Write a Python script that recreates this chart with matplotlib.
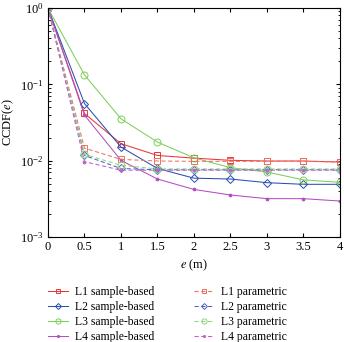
import matplotlib
matplotlib.use("Agg")
import matplotlib.pyplot as plt
import numpy as np

plt.rcParams['font.family'] = ['Liberation Serif', 'DejaVu Serif']
plt.rcParams['mathtext.fontset'] = 'stix'

e = [0, 0.5, 1, 1.5, 2, 2.5, 3, 3.5, 4]

L1_sample = [1, 0.0415, 0.0167, 0.0117, 0.0108, 0.0101, 0.0099, 0.0099, 0.0096]
L2_sample = [1, 0.056, 0.0151, 0.0079, 0.0059, 0.00575, 0.00515, 0.0049, 0.0049]
L3_sample = [1, 0.133, 0.0354, 0.0175, 0.0109, 0.0081, 0.0071, 0.0056, 0.0052]
L4_sample = [1, 0.0395, 0.0101, 0.00575, 0.0042, 0.00355, 0.00318, 0.00318, 0.00296]

L1_param = [1, 0.0146, 0.0104, 0.0099, 0.0098, 0.0098, 0.0098, 0.0098, 0.0096]
L2_param = [1, 0.0117, 0.0079, 0.0076, 0.0076, 0.0076, 0.0076, 0.0076, 0.0076]
L3_param = [1, 0.0121, 0.0087, 0.0078, 0.0078, 0.0078, 0.0078, 0.0078, 0.0078]
L4_param = [1, 0.0097, 0.0075, 0.0075, 0.0075, 0.0075, 0.0075, 0.0075, 0.0075]

labels_sample = ['L1 sample-based', 'L2 sample-based', 'L3 sample-based', 'L4 sample-based']
labels_param = ['L1 parametric', 'L2 parametric', 'L3 parametric', 'L4 parametric']

col_sample = ['#e8353a', '#2a4fb0', '#7dcf5a', '#b04fc0']
col_param = ['#f07060', '#4a66c0', '#90d878', '#c060c8']
markers = ['s', 'D', 'o', '.']

fig = plt.figure(figsize=(3.44, 3.42), dpi=100)
ax = fig.add_axes([0.1395, 0.307, 0.8485, 0.6696])

def msize(m):
    return {'s': 4.5, 'D': 4, 'o': 5, '.': 4}[m]

handles_s = []
for data, c, m, lab in zip([L1_sample, L2_sample, L3_sample, L4_sample], col_sample, markers, labels_sample):
    h, = ax.plot(e, data, color=c, marker=m, markersize=msize(m),
                 markerfacecolor='none' if m != '.' else c, markeredgewidth=0.7,
                 linewidth=0.75, label=lab)
    handles_s.append(h)
handles_p = []
for data, c, m, lab in zip([L1_param, L2_param, L3_param, L4_param], col_param, markers, labels_param):
    h, = ax.plot(e, data, color=c, marker=m, markersize=msize(m),
                 markerfacecolor='none' if m != '.' else c, markeredgewidth=0.7,
                 linewidth=0.75, linestyle=(0, (4, 2.5)), label=lab)
    handles_p.append(h)

ax.set_yscale('log')
ax.set_xlim(0, 4)
ax.set_ylim(1e-3, 1)
ax.set_xticks([0, 0.5, 1, 1.5, 2, 2.5, 3, 3.5, 4])
ax.set_xticklabels(['0', '0.5', '1', '1.5', '2', '2.5', '3', '3.5', '4'])
ax.tick_params(which='both', direction='in', top=True, right=True, labelsize=9, pad=3)
ax.tick_params(which='major', length=3)
ax.tick_params(which='minor', length=1.8)
ax.set_xlabel(r'$e$ (m)', fontsize=9, labelpad=3)
ax.set_ylabel(r'CCDF($e$)', fontsize=9)
ax.yaxis.set_label_coords(-0.11, 0.5)
for s in ax.spines.values():
    s.set_linewidth(0.8)

leg = fig.legend(handles_s + handles_p, labels_sample + labels_param, ncol=2,
                 loc='upper left', bbox_to_anchor=(0.14, 0.163),
                 bbox_transform=fig.transFigure, frameon=False, fontsize=8.4,
                 handlelength=1.7, columnspacing=3.4, labelspacing=0.25,
                 handletextpad=0.6, markerscale=0.75, borderpad=0.0,
                 borderaxespad=0.0)

fig.savefig('out.png', dpi=100)
